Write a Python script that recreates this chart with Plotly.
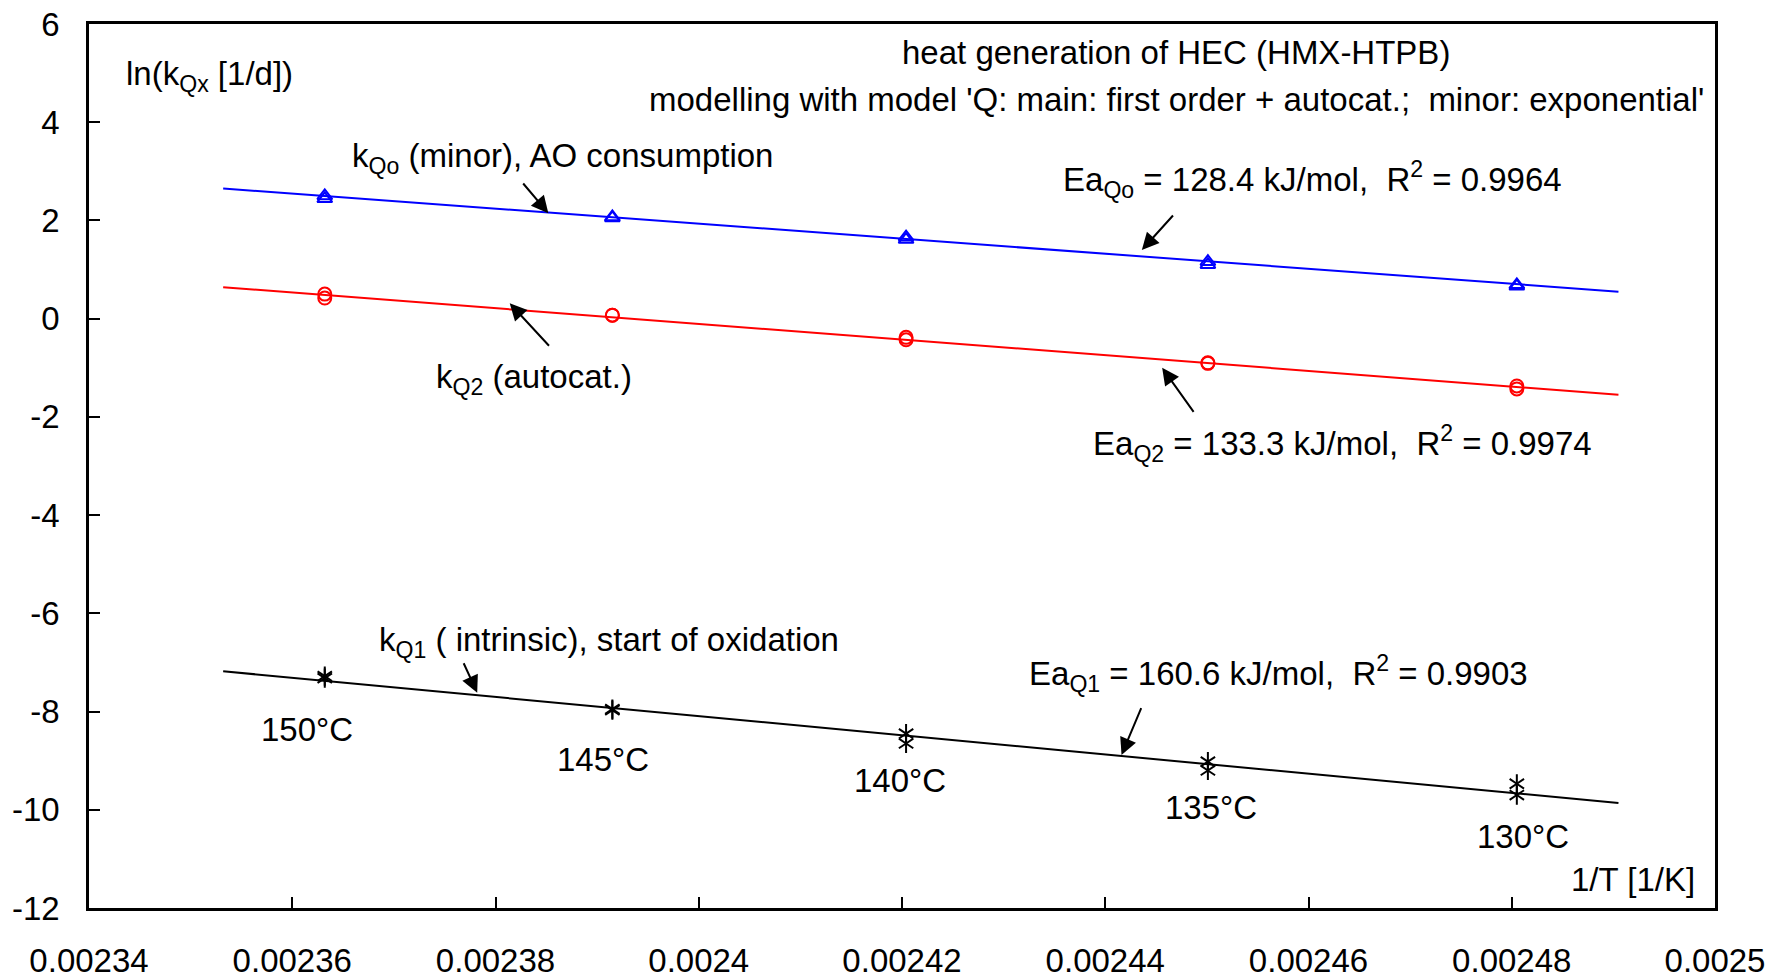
import plotly.graph_objects as go

# ---------------- data ----------------
temps_label = ["150°C", "145°C", "140°C", "135°C", "130°C"]
inv_T = [0.0023632, 0.0023915, 0.0024204, 0.0024501, 0.0024805]

# ln(k) values, two runs per temperature
ln_kQo_a = [2.50, 2.07, 1.66, 1.16, 0.69]
ln_kQo_b = [2.44, 2.05, 1.61, 1.10, 0.66]
ln_kQ2_a = [0.50, 0.07, -0.38, -0.90, -1.37]
ln_kQ2_b = [0.42, 0.07, -0.43, -0.91, -1.43]
ln_kQ1_a = [-7.28, -7.95, -8.45, -9.02, -9.47]
ln_kQ1_b = [-7.32, -7.97, -8.65, -9.20, -9.70]

# Arrhenius fit line end points
fit_x = [0.0023532, 0.0024905]
fit_Qo = [2.65, 0.55]
fit_Q2 = [0.64, -1.55]
fit_Q1 = [-7.18, -9.86]

x_ticks = [0.00234, 0.00236, 0.00238, 0.0024, 0.00242, 0.00244, 0.00246, 0.00248, 0.0025]
x_tick_labels = ["0.00234", "0.00236", "0.00238", "0.0024", "0.00242",
                 "0.00244", "0.00246", "0.00248", "0.0025"]
y_ticks = [-12, -10, -8, -6, -4, -2, 0, 2, 4, 6]
y_tick_labels = ["-12", "-10", "-8", "-6", "-4", "-2", "0", "2", "4", "6"]

FONT = "Liberation Sans, Arial, sans-serif"
FS = 33
NB = "\u00a0"

fig = go.Figure()

# fit lines
fig.add_trace(go.Scatter(x=fit_x, y=fit_Qo, mode="lines",
                         line=dict(color="#0000ff", width=2), showlegend=False))
fig.add_trace(go.Scatter(x=fit_x, y=fit_Q2, mode="lines",
                         line=dict(color="#ff0000", width=2), showlegend=False))
fig.add_trace(go.Scatter(x=fit_x, y=fit_Q1, mode="lines",
                         line=dict(color="#000000", width=2), showlegend=False))

# markers
fig.add_trace(go.Scatter(x=inv_T + inv_T, y=ln_kQo_a + ln_kQo_b, mode="markers",
                         marker=dict(symbol="triangle-up-open", size=13, color="#0000ff",
                                     line=dict(width=2, color="#0000ff")),
                         showlegend=False))
fig.add_trace(go.Scatter(x=inv_T + inv_T, y=ln_kQ2_a + ln_kQ2_b, mode="markers",
                         marker=dict(symbol="circle-open", size=13, color="#ff0000",
                                     line=dict(width=2, color="#ff0000")),
                         showlegend=False))
for sym in ["y-up-open", "y-down-open"]:
    fig.add_trace(go.Scatter(x=inv_T + inv_T, y=ln_kQ1_a + ln_kQ1_b, mode="markers",
                             marker=dict(symbol=sym, size=12, color="#000000",
                                         line=dict(width=2, color="#000000")),
                             showlegend=False))

annotations = []


def text(x, y, s, xanchor="left", yanchor="middle"):
    annotations.append(dict(x=x, y=y, xref="x", yref="y", text=s, showarrow=False,
                            xanchor=xanchor, yanchor=yanchor,
                            font=dict(family=FONT, size=FS, color="black")))


def arrow(x_head, y_head, x_tail, y_tail):
    annotations.append(dict(x=x_head, y=y_head, ax=x_tail, ay=y_tail,
                            xref="x", yref="y", axref="x", ayref="y",
                            text="", showarrow=True, arrowhead=2, arrowsize=1.7,
                            arrowwidth=2, arrowcolor="black", standoff=0))


text(0.0023434, 4.95, "ln(k<sub>Qx</sub> [1/d])")
text(0.0024470, 5.41, "heat generation of HEC (HMX-HTPB)", xanchor="center")
text(0.0024470, 4.47,
     "modelling with model 'Q: main: first order + autocat.;" + NB + NB + "minor: exponential'",
     xanchor="center")

text(0.0023657, 3.27, "k<sub>Qo</sub> (minor), AO consumption")
arrow(0.0023852, 2.145, 0.0023826, 2.783)

text(0.0024356, 2.83, "Ea<sub>Qo</sub> = 128.4 kJ/mol," + NB + NB + "R<sup>2</sup> = 0.9964")
arrow(0.0024436, 1.398, 0.0024468, 2.131)

text(0.0023739, -1.22, "k<sub>Q2</sub> (autocat.)")
arrow(0.0023814, 0.313, 0.0023854, -0.583)

text(0.0024386, -2.54, "Ea<sub>Q2</sub> = 133.3 kJ/mol," + NB + NB + "R<sup>2</sup> = 0.9974")
arrow(0.0024456, -0.999, 0.0024488, -1.927)

text(0.0023683, -6.58, "k<sub>Q1</sub> ( intrinsic), start of oxidation")
arrow(0.0023782, -7.616, 0.0023768, -6.985)

text(0.0024323, -7.23, "Ea<sub>Q1</sub> = 160.6 kJ/mol," + NB + NB + "R<sup>2</sup> = 0.9903")
arrow(0.0024416, -8.885, 0.0024436, -7.90)

temp_label_x = [0.0023615, 0.0023906, 0.0024198, 0.0024504, 0.0024811]
temp_label_y = [-8.356, -8.966, -9.394, -9.954, -10.534]
for xv, yv, lab in zip(temp_label_x, temp_label_y, temps_label):
    text(xv, yv, lab, xanchor="center")

text(0.0024982, -11.41, "1/T [1/K]", xanchor="right")

fig.update_layout(
    width=1778, height=979,
    margin=dict(l=89, r=63, t=24, b=71),
    plot_bgcolor="white", paper_bgcolor="white",
    font=dict(family=FONT, size=FS, color="black"),
    annotations=annotations,
    showlegend=False,
)
fig.update_xaxes(range=[0.00234, 0.0025], tickvals=x_ticks, ticktext=x_tick_labels,
                 ticks="inside", ticklen=11, tickwidth=1.5, tickcolor="black",
                 showline=True, linecolor="black", linewidth=3, mirror=True,
                 showgrid=False, zeroline=False, ticklabelstandoff=21, automargin=False,
                 tickfont=dict(family=FONT, size=FS, color="black"))
fig.update_yaxes(range=[-12, 6], tickvals=y_ticks, ticktext=y_tick_labels,
                 ticks="inside", ticklen=11, tickwidth=1.5, tickcolor="black",
                 showline=True, linecolor="black", linewidth=2.5, mirror=True,
                 showgrid=False, zeroline=False, ticklabelstandoff=20, automargin=False,
                 tickfont=dict(family=FONT, size=FS, color="black"))

fig.write_html("out.html")
